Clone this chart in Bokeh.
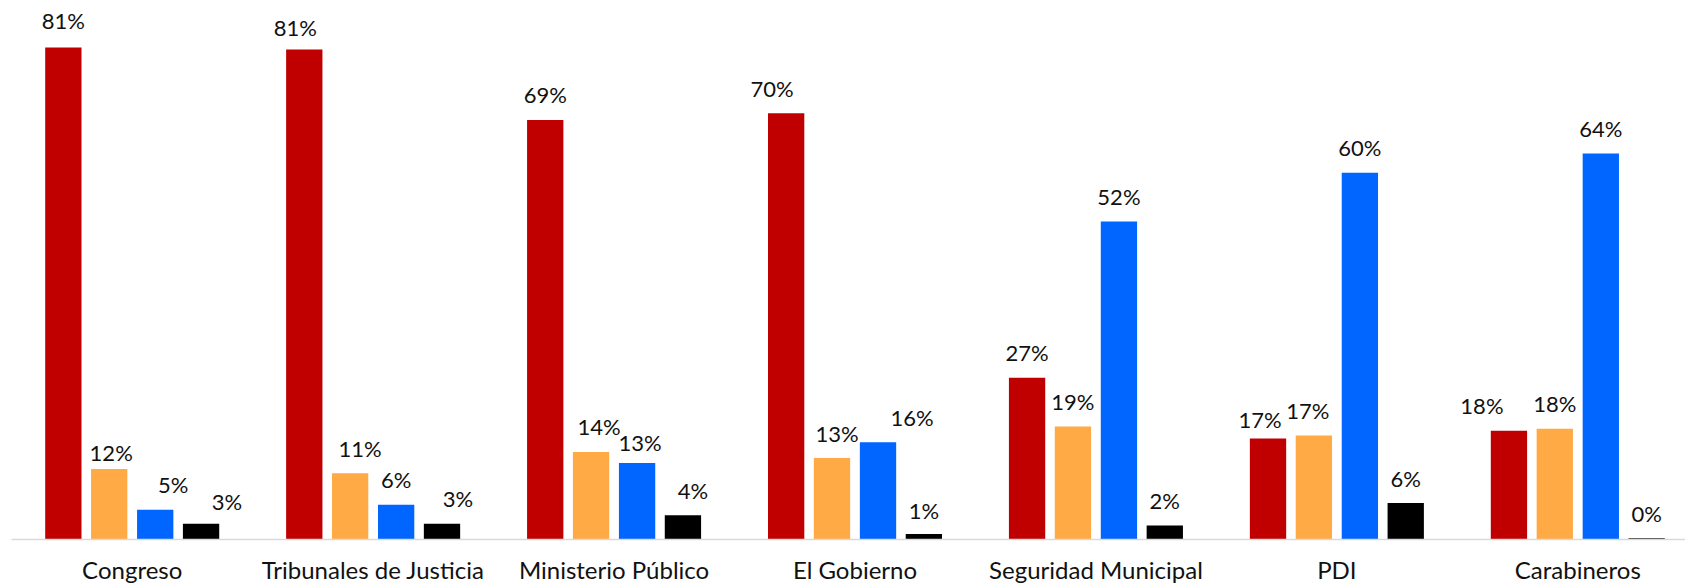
from bokeh.plotting import figure
from bokeh.models import ColumnDataSource, Range1d, FixedTicker, LabelSet
from bokeh.transform import dodge
from bokeh.core.properties import value
from bokeh.embed import file_html
from bokeh.resources import INLINE

# ---- data ----
categories = ["Congreso", "Tribunales de Justicia", "Ministerio Público", "El Gobierno",
              "Seguridad Municipal", "PDI", "Carabineros"]
serie_roja = [80.9, 80.6, 69.0, 70.1, 26.6, 16.6, 17.9]
serie_naranja = [11.6, 10.9, 14.4, 13.4, 18.6, 17.1, 18.2]
serie_azul = [4.9, 5.7, 12.6, 16.0, 52.3, 60.3, 63.5]
serie_negra = [2.6, 2.6, 4.0, 0.9, 2.3, 6.0, 0.2]

# label nudges in screen pixels (styling of the data labels)
nudge_x = {
    "roja": [0, -9, 0, -14, 0, -8, -27],
    "naranja": [2, 10, 8, 5, 0, -6, 0],
    "azul": [18, 0, 3, 34, 0, 0, 0],
    "negra": [26, 16, 10, 0, 0, 0, 0],
}
nudge_y = {
    "roja": [2, -3.5, 0, 0, 0, -6, 0],
    "naranja": [-9, 0, 0, 0, 0, 0, 0],
    "azul": [0, 0, -4.5, 0, 0, 0, 0],
    "negra": [-2.5, 0, 0, -1.5, 0, 0, 0],
}

series = [
    ("roja", serie_roja, "#C00000", -0.2858),
    ("naranja", serie_naranja, "#FFAA45", -0.0955),
    ("azul", serie_azul, "#0066FF", 0.0955),
    ("negra", serie_negra, "#000000", 0.2858),
]

FONT = "Lato"
BASE_GAP = 16.5

p = figure(frame_width=1674, frame_height=539,
           x_range=Range1d(-0.501, 6.447), y_range=Range1d(0, 88.65),
           output_backend="svg", toolbar_location=None,
           y_axis_location=None,
           min_border_left=11, min_border_right=0, min_border_top=0, min_border_bottom=0)
p.background_fill_color = "white"
p.border_fill_color = "white"
p.outline_line_color = None
p.xgrid.visible = False
p.ygrid.visible = False

idx = list(range(len(categories)))
for name, vals, color, off in series:
    src = ColumnDataSource(dict(
        x=idx, cat=categories, v=vals,
        lbl=["{:.0f}%".format(v) for v in vals],
        dx=nudge_x[name],
        dy=[BASE_GAP + d for d in nudge_y[name]],
    ))
    p.vbar(x=dodge("x", off), top="v", bottom=0, width=0.1507, source=src,
           fill_color=color, line_color=None)
    labels = LabelSet(x=dodge("x", off), y="v", text="lbl", source=src,
                      x_offset="dx", y_offset="dy",
                      text_align="center", text_baseline="alphabetic",
                      text_font=value(FONT), text_font_size=value("22px"),
                      text_color="#111111")
    p.add_layout(labels)

ax = p.xaxis[0]
ax.ticker = FixedTicker(ticks=idx)
ax.major_label_overrides = {i: c for i, c in zip(idx, categories)}
ax.major_tick_line_color = None
ax.minor_tick_line_color = None
ax.major_tick_out = 0
ax.major_tick_in = 0
ax.minor_tick_out = 0
ax.minor_tick_in = 0
ax.axis_line_color = "#D9D9D9"
ax.axis_line_width = 1.5
ax.major_label_standoff = 15
ax.major_label_text_font = FONT
ax.major_label_text_font_size = "24px"
ax.major_label_text_color = "#111111"

open("out.html", "w").write(file_html(p, INLINE))
